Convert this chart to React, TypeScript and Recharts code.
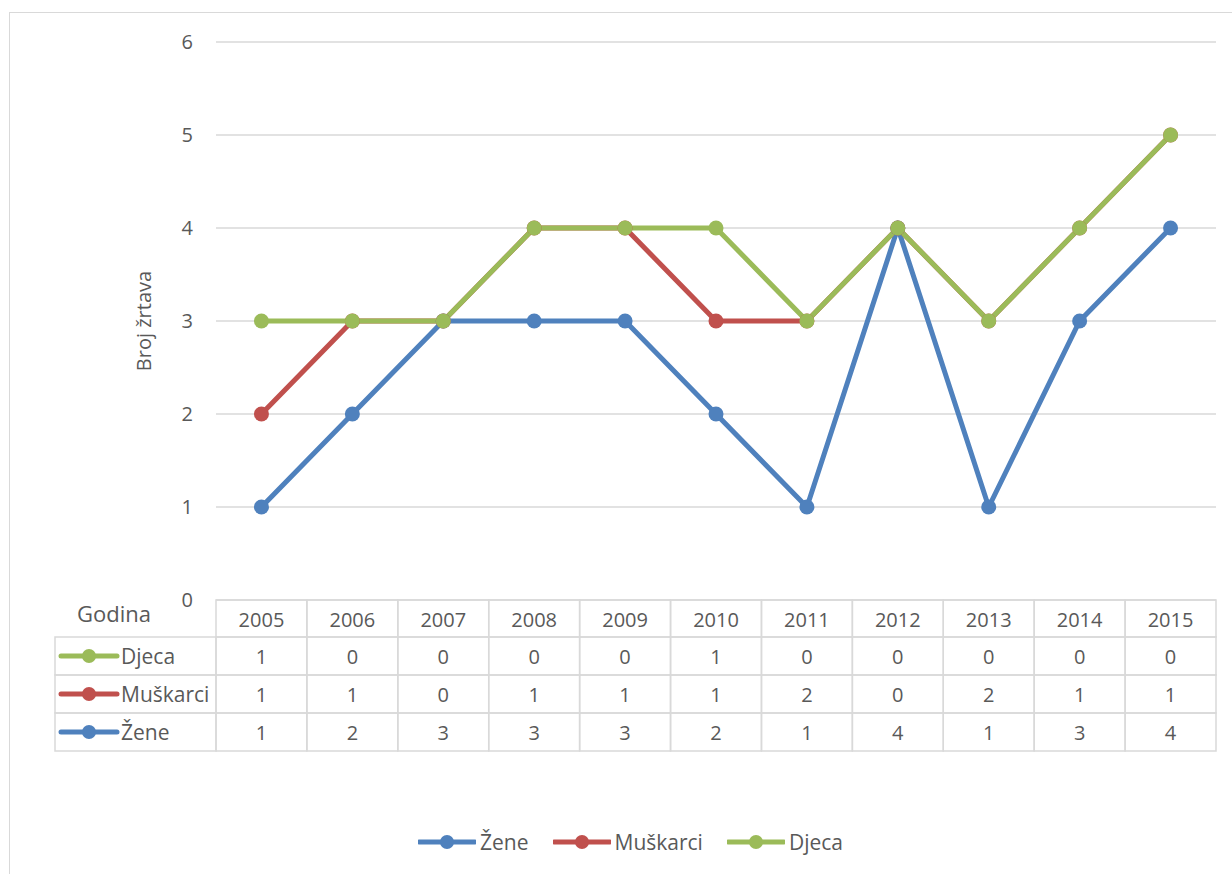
import { AreaChart, Area, XAxis, YAxis, CartesianGrid, Legend } from 'recharts';

const years = ['2005', '2006', '2007', '2008', '2009', '2010', '2011', '2012', '2013', '2014', '2015'];
const zene = [1, 2, 3, 3, 3, 2, 1, 4, 1, 3, 4];
const muskarci = [1, 1, 0, 1, 1, 1, 2, 0, 2, 1, 1];
const djeca = [1, 0, 0, 0, 0, 1, 0, 0, 0, 0, 0];
const yTicks = [0, 1, 2, 3, 4, 5, 6];

const data = years.map((year, i) => ({ year, zene: zene[i], muskarci: muskarci[i], djeca: djeca[i] }));

// drawing order (bottom of stack first)
const series = [
  { key: 'zene', name: 'Žene', color: '#4f81bd', values: zene },
  { key: 'muskarci', name: 'Muškarci', color: '#c0504d', values: muskarci },
  { key: 'djeca', name: 'Djeca', color: '#9bbb59', values: djeca },
];
// data table rows, top to bottom (axis ids sort in this order)
const tableRows = [
  { id: 'r1', ...series[2] },
  { id: 'r2', ...series[1] },
  { id: 'r3', ...series[0] },
];

const W = 1232;
const H = 874;
const PLOT_LEFT = 216;
const PLOT_WIDTH = 1000;
const BAND = PLOT_WIDTH / years.length;
const TABLE_LEFT = 55;
const HEADER_H = 37;
const ROW_H = 38;
const GRID = '#d9d9d9';
const TEXT = '#595959';
const FONT = "'Open Sans', sans-serif";
const PAD = { left: BAND / 2, right: BAND / 2 };

const Icon = ({ x, y, color }: { x: number; y: number; color: string }) => (
  <g>
    <line x1={x} y1={y} x2={x + 56} y2={y} stroke={color} strokeWidth={5} strokeLinecap="round" />
    <circle cx={x + 28} cy={y} r={7} fill={color} />
  </g>
);

const YearTick = (props: any) => {
  const { x, y, payload, index } = props;
  return (
    <g>
      <rect x={x - BAND / 2} y={y} width={BAND} height={HEADER_H} fill="none" stroke={GRID} strokeWidth={1.5} />
      <text x={x} y={y + HEADER_H / 2 + 1} textAnchor="middle" dominantBaseline="central" fontSize={20} fill={TEXT}>
        {payload.value}
      </text>
      {index === 0 && (
        <text x={114} y={y + 13} textAnchor="middle" dominantBaseline="central" fontSize={22} fill={TEXT}>
          Godina
        </text>
      )}
    </g>
  );
};

const makeRowTick = (row: (typeof tableRows)[number]) => (props: any) => {
  const { x, y, index } = props;
  const left = x - BAND / 2;
  return (
    <g>
      <rect x={left} y={y} width={BAND} height={ROW_H} fill="none" stroke={GRID} strokeWidth={1.5} />
      <text x={x} y={y + ROW_H / 2} textAnchor="middle" dominantBaseline="central" fontSize={20} fill={TEXT}>
        {row.values[index]}
      </text>
      {index === 0 && (
        <g>
          <rect x={TABLE_LEFT} y={y} width={left - TABLE_LEFT} height={ROW_H} fill="none" stroke={GRID} strokeWidth={1.5} />
          <Icon x={TABLE_LEFT + 6} y={y + ROW_H / 2} color={row.color} />
          <text x={TABLE_LEFT + 66} y={y + ROW_H / 2} dominantBaseline="central" fontSize={21} fill={TEXT}>
            {row.name}
          </text>
        </g>
      )}
    </g>
  );
};

const LegendContent = () => (
  <div style={{ display: 'flex', justifyContent: 'center', alignItems: 'center', fontFamily: FONT, fontSize: 21, color: TEXT }}>
    {series.map((s) => (
      <div key={s.key} style={{ display: 'flex', alignItems: 'center', margin: '0 12px' }}>
        <svg width={58} height={16}>
          <Icon x={1} y={8} color={s.color} />
        </svg>
        <span style={{ marginLeft: 4 }}>{s.name}</span>
      </div>
    ))}
  </div>
);

const YTitle = (props: any) => {
  const { viewBox } = props;
  const cx = 143;
  const cy = viewBox.y + viewBox.height / 2;
  return (
    <text x={cx} y={cy} transform={`rotate(-90, ${cx}, ${cy})`} textAnchor="middle" dominantBaseline="central" fontSize={20} fill={TEXT}>
      Broj žrtava
    </text>
  );
};

export default function App() {
  return (
    <div style={{ position: 'absolute', left: 0, top: 0, width: W, height: H, overflow: 'hidden', background: '#fff', fontFamily: FONT }}>
      <div style={{ position: 'absolute', left: 9, top: 12, width: 1400, height: 1000, border: `1.5px solid ${GRID}` }} />
      <AreaChart
        width={W}
        height={H}
        data={data}
        margin={{ top: 42, right: W - PLOT_LEFT - PLOT_WIDTH, left: PLOT_LEFT - 60, bottom: 123 }}
        style={{ position: 'absolute', left: 0, top: 0, fontFamily: FONT }}
      >
        <CartesianGrid xAxisId="r0" vertical={false} stroke={GRID} strokeWidth={1.5} />
        <XAxis xAxisId="r0" dataKey="year" height={HEADER_H} padding={PAD} interval={0} tickSize={0} tickMargin={0} axisLine={false} tickLine={false} tick={YearTick} />
        {tableRows.map((row) => (
          <XAxis
            key={row.id}
            xAxisId={row.id}
            dataKey="year"
            height={ROW_H}
            padding={PAD}
            interval={0}
            tickSize={0}
            tickMargin={0}
            axisLine={false}
            tickLine={false}
            tick={makeRowTick(row)}
          />
        ))}
        <YAxis
          domain={[0, 6]}
          ticks={yTicks}
          width={60}
          tickSize={0}
          tickMargin={23}
          axisLine={false}
          tickLine={false}
          tick={{ fontSize: 20, fill: TEXT }}
          label={<YTitle />}
        />
        <Legend
          layout="horizontal"
          verticalAlign="middle"
          align="center"
          content={<LegendContent />}
          wrapperStyle={{ top: 828, left: 0, width: 1261 }}
        />
        {series.map((s) => (
          <Area
            key={s.key}
            xAxisId="r0"
            type="linear"
            dataKey={s.key}
            name={s.name}
            stackId="1"
            stroke={s.color}
            strokeWidth={5}
            fill="none"
            dot={{ r: 7.5, fill: s.color, stroke: s.color, strokeWidth: 0, fillOpacity: 1, strokeOpacity: 1 }}
            activeDot={false}
            isAnimationActive={false}
          />
        ))}
      </AreaChart>
    </div>
  );
}
